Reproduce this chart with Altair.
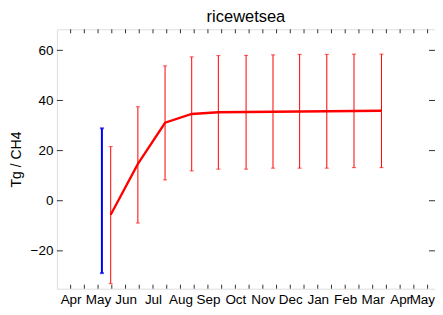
import altair as alt
import pandas as pd

# ---- data ----
month_labels = ["Apr", "May", "Jun", "Jul", "Aug", "Sep", "Oct", "Nov",
                "Dec", "Jan", "Feb", "Mar", "Apr", "May"]
month_pos = [0.5 + i for i in range(len(month_labels))]

x_pos = [1.96, 2.95, 3.94, 4.91, 5.88, 6.89, 7.87, 8.84, 9.83, 10.82, 11.82]
mean_vals = [-5.6, 14.7, 31.1, 34.6, 35.3, 35.4, 35.5, 35.6, 35.7, 35.8, 35.9]
upper_vals = [21.6, 37.5, 53.8, 57.4, 57.9, 58.0, 58.2, 58.4, 58.4, 58.5, 58.5]
lower_vals = [-33.1, -8.9, 8.3, 11.9, 12.6, 12.6, 13.0, 13.0, 13.0, 13.2, 13.2]

prior_x = [1.64]
prior_upper = [28.9]
prior_lower = [-28.9]

y_ticks = [-20, 0, 20, 40, 60]
x_minor = [0.5 + 0.5 * i for i in range(27)]

x_domain = [0, 13.77]
y_domain = [-35.1, 68.4]

W, H = 379, 260
FONT = "Liberation Sans"

df = pd.DataFrame({"x": x_pos, "mean": mean_vals, "up": upper_vals, "lo": lower_vals})
prior = pd.DataFrame({"x": prior_x, "up": prior_upper, "lo": prior_lower})
xt = pd.DataFrame({"x": x_minor})
yt = pd.DataFrame({"y": y_ticks})

label_arr = "[" + ",".join("'%s'" % m for m in month_labels) + "]"

xscale = alt.Scale(domain=x_domain, nice=False, zero=False)
yscale = alt.Scale(domain=y_domain, nice=False, zero=False)

xaxis = alt.Axis(values=month_pos, labelExpr=label_arr + "[round(datum.value - 0.5)]",
                 ticks=False, domain=False, grid=False, labelOverlap=False,
                 labelFontSize=13.5, labelFont=FONT, labelColor="black",
                 labelPadding=4, title=None, labelBound=False, labelFlush=False,
                 labelAlign={"condition": {"test": "datum.value > 13", "value": "right"},
                             "value": "center"},
                 labelOffset={"condition": {"test": "datum.value > 13", "value": 7},
                              "value": 0})
yaxis = alt.Axis(values=y_ticks, ticks=False, domain=False, grid=False,
                 labelFontSize=13.5, labelFont=FONT, labelColor="black",
                 labelPadding=4, title="Tg / CH4", titleFont=FONT, titleFontSize=14,
                 titleFontWeight="normal", titleColor="black", titlePadding=7)


def X(field):
    return alt.X(field, type="quantitative", scale=xscale, axis=xaxis)


def Y(field):
    return alt.Y(field, type="quantitative", scale=yscale, axis=yaxis)


RED = "#ff0000"
BLUE = "#0000ff"

err = alt.Chart(df).mark_rule(color=RED, strokeWidth=1).encode(
    x=X("x"), y=Y("lo"), y2="up")
cap_up = alt.Chart(df).mark_tick(color=RED, orient="horizontal", size=4, thickness=1).encode(
    x=X("x"), y=Y("up"))
cap_lo = alt.Chart(df).mark_tick(color=RED, orient="horizontal", size=4, thickness=1).encode(
    x=X("x"), y=Y("lo"))
line = alt.Chart(df).mark_line(color=RED, strokeWidth=2.3).encode(
    x=X("x"), y=Y("mean"))

perr = alt.Chart(prior).mark_rule(color=BLUE, strokeWidth=2).encode(
    x=X("x"), y=Y("lo"), y2="up")
pcap_up = alt.Chart(prior).mark_tick(color=BLUE, orient="horizontal", size=4, thickness=2).encode(
    x=X("x"), y=Y("up"))
pcap_lo = alt.Chart(prior).mark_tick(color=BLUE, orient="horizontal", size=4, thickness=2).encode(
    x=X("x"), y=Y("lo"))

AX = "#333333"
tb = alt.Chart(xt).mark_rule(color=AX, strokeWidth=1).encode(
    x=X("x"), y=alt.value(H), y2=alt.value(H - 4))
tt = alt.Chart(xt).mark_rule(color=AX, strokeWidth=1).encode(
    x=X("x"), y=alt.value(0), y2=alt.value(4))
tl = alt.Chart(yt).mark_rule(color=AX, strokeWidth=1).encode(
    y=Y("y"), x=alt.value(0), x2=alt.value(6))
tr = alt.Chart(yt).mark_rule(color=AX, strokeWidth=1).encode(
    y=Y("y"), x=alt.value(W), x2=alt.value(W - 6))

chart = alt.layer(
    tb, tt, tl, tr, perr, pcap_up, pcap_lo, err, cap_up, cap_lo, line
).properties(
    width=W, height=H,
    title=alt.TitleParams("ricewetsea", font=FONT, fontSize=16.5, fontWeight="normal",
                          color="black", anchor="middle", offset=3),
    autosize=alt.AutoSizeParams(type="none"),
    padding={"left": 49, "top": 21, "right": 0, "bottom": 18},
).configure_view(
    stroke=AX, strokeWidth=1
).configure(background="white")

chart.save("out.html", embed_options={"renderer": "svg", "actions": False})
